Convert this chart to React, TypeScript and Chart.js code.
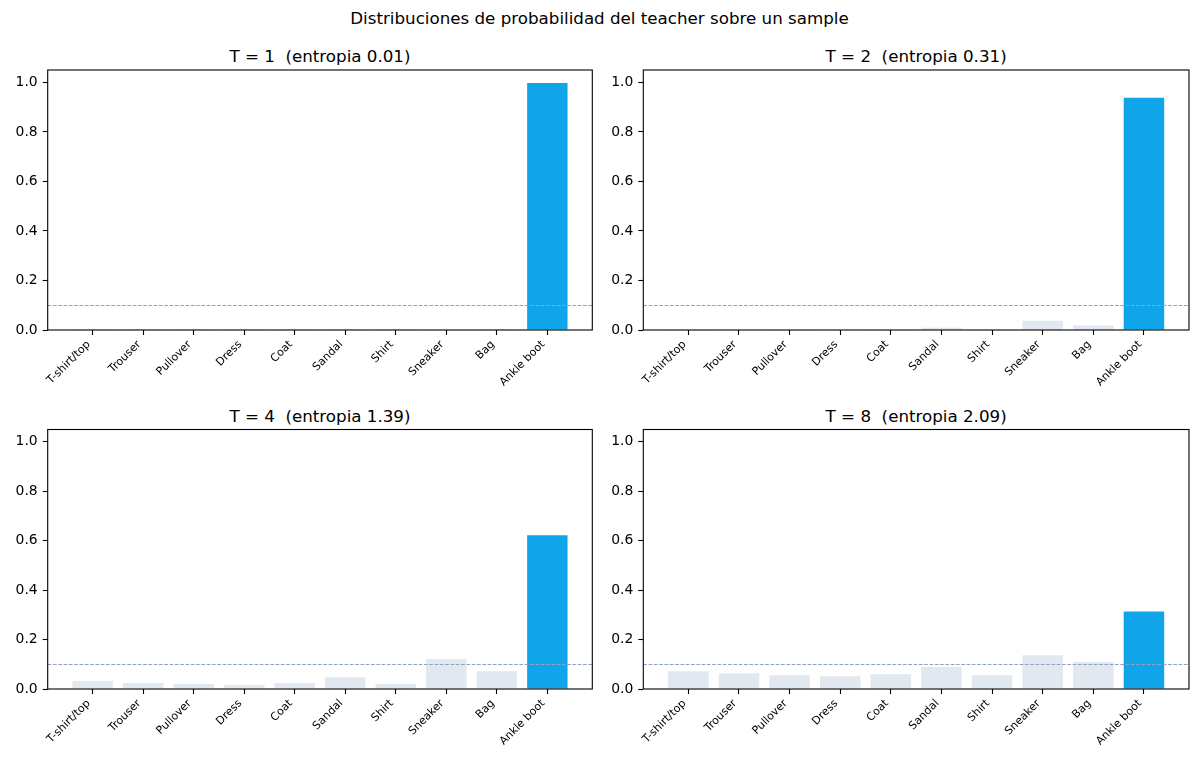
import React, { useEffect, useRef } from 'react';
import { Chart, registerables } from 'chart.js';

Chart.register(...registerables);

// Fashion-MNIST classes
const CLASSES = ['T-shirt/top', 'Trouser', 'Pullover', 'Dress', 'Coat', 'Sandal', 'Shirt', 'Sneaker', 'Bag', 'Ankle boot'];
const TEMPERATURES = [1, 2, 4, 8];
const ENTROPIES = [0.01, 0.31, 1.39, 2.09];

const PROBS_T1 = [0.0002, 0.0001, 0.0001, 0.0001, 0.0001, 0.0004, 0.0001, 0.0012, 0.0003, 0.9974];
const PROBS_T2 = [0.003, 0.002, 0.003, 0.002, 0.003, 0.009, 0.003, 0.037, 0.018, 0.938];
const PROBS_T4 = [0.032, 0.024, 0.020, 0.016, 0.024, 0.048, 0.020, 0.121, 0.072, 0.622];
const PROBS_T8 = [0.072, 0.064, 0.056, 0.052, 0.060, 0.089, 0.056, 0.137, 0.109, 0.314];
const ALL_PROBS = [PROBS_T1, PROBS_T2, PROBS_T4, PROBS_T8];

const UNIFORM_LINE = 0.1;
const Y_TICKS = [0, 0.2, 0.4, 0.6, 0.8, 1.0];

const BLUE = '#10a5e9';
const GRAY = '#e2e8f0';
const REF_COLOR = '#8fa2c1';
const FONT = "'DejaVu Sans', Verdana, sans-serif";

interface PanelBox {
  left: number;
  top: number;
  width: number;
  height: number;
  padTop: number;
  padRight: number;
  yAxisWidth: number;
  xAxisHeight: number;
}

// canvas boxes for the 2x2 grid
const BOXES: PanelBox[] = [
  { left: 0, top: 40, width: 600, height: 360, padTop: 30, padRight: 7.7, yAxisWidth: 47.7, xAxisHeight: 70 },
  { left: 600, top: 40, width: 599, height: 360, padTop: 30, padRight: 10, yAxisWidth: 43.3, xAxisHeight: 70 },
  { left: 0, top: 400, width: 600, height: 360, padTop: 29.5, padRight: 7.7, yAxisWidth: 47.7, xAxisHeight: 71 },
  { left: 600, top: 400, width: 599, height: 360, padTop: 29.5, padRight: 10, yAxisWidth: 43.3, xAxisHeight: 71 },
];

const framePlugin = {
  id: 'frameAndRef',
  afterDatasetsDraw(chart: any) {
    const { ctx, chartArea, scales } = chart;
    const y = Math.round(scales.y.getPixelForValue(UNIFORM_LINE)) + 0.5;
    ctx.save();
    ctx.strokeStyle = REF_COLOR;
    ctx.lineWidth = 1;
    ctx.setLineDash([3.7, 1.6]);
    ctx.beginPath();
    ctx.moveTo(chartArea.left, y);
    ctx.lineTo(chartArea.right, y);
    ctx.stroke();
    ctx.restore();
  },
  afterDraw(chart: any) {
    const { ctx, chartArea } = chart;
    ctx.save();
    ctx.strokeStyle = '#000';
    ctx.lineWidth = 1.1;
    ctx.strokeRect(chartArea.left, chartArea.top, chartArea.right - chartArea.left, chartArea.bottom - chartArea.top);
    ctx.restore();
  },
};

function Panel({ probs, box }: { probs: number[]; box: PanelBox }) {
  const canvasRef = useRef<HTMLCanvasElement>(null);

  useEffect(() => {
    if (!canvasRef.current) return;
    const max = Math.max(...probs);
    const colors = probs.map(p => (p === max ? BLUE : GRAY));

    const chart = new Chart(canvasRef.current, {
      type: 'bar',
      data: {
        datasets: [
          {
            data: probs.map((p, i) => ({ x: i, y: p })),
            backgroundColor: colors,
            borderWidth: 0,
            barPercentage: 0.8,
            categoryPercentage: 1,
          },
        ],
      },
      options: {
        responsive: false,
        animation: false,
        devicePixelRatio: 1,
        layout: { padding: { top: box.padTop, right: box.padRight, left: 0, bottom: 0 } },
        plugins: { legend: { display: false }, tooltip: { enabled: false }, title: { display: false } },
        scales: {
          x: {
            type: 'linear',
            min: -0.89,
            max: 9.89,
            offset: false,
            afterBuildTicks: (scale: any) => {
              scale.ticks = CLASSES.map((_, i) => ({ value: i }));
            },
            afterFit: (scale: any) => {
              scale.height = box.xAxisHeight;
              scale.paddingLeft = 0;
              scale.paddingRight = 0;
            },
            border: { display: false },
            grid: { offset: false, drawOnChartArea: false, drawTicks: true, tickLength: 5, color: '#000', tickWidth: 1.1 },
            ticks: {
              autoSkip: false,
              maxRotation: 45,
              minRotation: 45,
              padding: 3,
              labelOffset: -4,
              color: '#000',
              font: { family: FONT, size: 11 },
              callback: (v: any) => CLASSES[v as number] ?? '',
            },
          },
          y: {
            min: 0,
            max: 1.05,
            afterBuildTicks: (scale: any) => {
              scale.ticks = Y_TICKS.map(v => ({ value: v }));
            },
            afterFit: (scale: any) => {
              scale.width = box.yAxisWidth;
              scale.paddingTop = 0;
              scale.paddingBottom = 0;
            },
            border: { display: false },
            grid: { drawOnChartArea: false, drawTicks: true, tickLength: 5, color: '#000', tickWidth: 1.1 },
            ticks: {
              padding: 5,
              color: '#000',
              font: { family: FONT, size: 13.9 },
              callback: (v: any) => (v as number).toFixed(1),
            },
          },
        },
      },
      plugins: [framePlugin],
    });

    return () => chart.destroy();
  }, [probs, box]);

  return (
    <canvas
      ref={canvasRef}
      width={box.width}
      height={box.height}
      style={{ position: 'absolute', left: box.left, top: box.top, width: box.width, height: box.height }}
    />
  );
}

export default function App() {
  return (
    <div style={{ position: 'fixed', left: 0, top: 0, width: 1199, height: 761, background: '#fff', fontFamily: FONT, color: '#000' }}>
      <div style={{ position: 'absolute', left: 0, width: 1199, top: 7, textAlign: 'center', fontSize: 16.7, lineHeight: '22px' }}>
        Distribuciones de probabilidad del teacher sobre un sample
      </div>
      {ALL_PROBS.map((probs, i) => {
        const box = BOXES[i];
        const areaLeft = box.left + box.yAxisWidth;
        const areaRight = box.left + box.width - box.padRight;
        return (
          <React.Fragment key={i}>
            <div
              style={{
                position: 'absolute',
                left: areaLeft,
                width: areaRight - areaLeft,
                top: box.top + box.padTop - 25,
                textAlign: 'center',
                fontSize: 16.7,
                lineHeight: '22px',
                whiteSpace: 'pre',
              }}
            >
              {`T = ${TEMPERATURES[i]}  (entropia ${ENTROPIES[i].toFixed(2)})`}
            </div>
            <Panel probs={probs} box={box} />
          </React.Fragment>
        );
      })}
    </div>
  );
}
